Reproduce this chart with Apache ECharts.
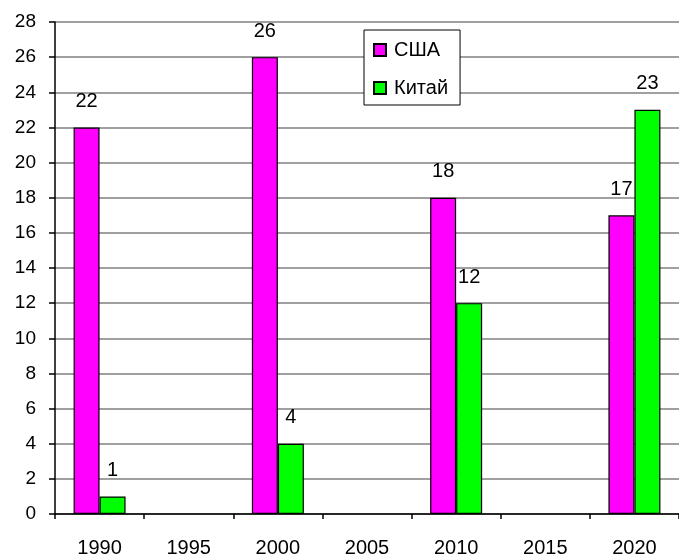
<!DOCTYPE html>
<html>
<head>
<meta charset="utf-8">
<script src="https://cdn.jsdelivr.net/npm/echarts@6/dist/echarts.min.js"></script>
<style>
  html, body { margin: 0; padding: 0; background: #ffffff; }
  #chart { width: 679px; height: 558px; }
</style>
</head>
<body>
<div id="chart"></div>
<script>
// Years on the horizontal axis
const years = ['1990', '1995', '2000', '2005', '2010', '2015', '2020'];
// Values per year (null where there is no bar)
const usaValues = [22, null, 26, null, 18, null, 17];
const chinaValues = [1, null, 4, null, 12, null, 23];
const seriesNames = ['США', 'Китай'];

const FONT = 'Liberation Sans, Arial, sans-serif';

const labelStyle = {
  show: true,
  position: 'top',
  distance: 16,
  color: '#000',
  fontFamily: FONT,
  fontSize: 20
};

const chart = echarts.init(document.getElementById('chart'), null, { renderer: 'canvas' });
chart.setOption({
  animation: false,
  backgroundColor: '#ffffff',
  grid: { left: 55, top: 22, width: 632, height: 495 },
  legend: {
    left: 364,
    top: 30,
    orient: 'vertical',
    backgroundColor: '#ffffff',
    borderColor: '#000',
    borderWidth: 1,
    padding: [10, 12, 7, 9],
    itemGap: 18,
    itemWidth: 12,
    itemHeight: 12,
    icon: 'rect',
    textStyle: { fontFamily: FONT, fontSize: 20, lineHeight: 20, color: '#000', padding: [0, 0, 0, 3] },
    data: seriesNames
  },
  xAxis: {
    type: 'category',
    data: years,
    boundaryGap: true,
    axisLine: { lineStyle: { color: '#000', width: 1.5 } },
    axisTick: { show: true, length: 5, alignWithLabel: false, lineStyle: { color: '#000', width: 1.5 } },
    axisLabel: { color: '#000', fontFamily: FONT, fontSize: 20, margin: 24 },
    splitLine: { show: false }
  },
  yAxis: {
    type: 'value',
    min: 0,
    max: 28,
    interval: 2,
    axisLine: { show: true, lineStyle: { color: '#000', width: 1.5 } },
    axisTick: { show: true, length: 6, lineStyle: { color: '#000', width: 1.5 } },
    axisLabel: { color: '#000', fontFamily: FONT, fontSize: 19, margin: 19 },
    splitLine: { show: true, lineStyle: { color: '#808080', width: 1.5 } }
  },
  series: [
    {
      name: seriesNames[0],
      type: 'bar',
      data: usaValues,
      barWidth: 26,
      barGap: '0%',
      itemStyle: { color: '#ff00ff', borderColor: '#000', borderWidth: 1.2 },
      label: labelStyle
    },
    {
      name: seriesNames[1],
      type: 'bar',
      data: chinaValues,
      barWidth: 26,
      barGap: '0%',
      itemStyle: { color: '#00ff00', borderColor: '#000', borderWidth: 1.2 },
      label: labelStyle
    }
  ]
});
</script>
</body>
</html>
